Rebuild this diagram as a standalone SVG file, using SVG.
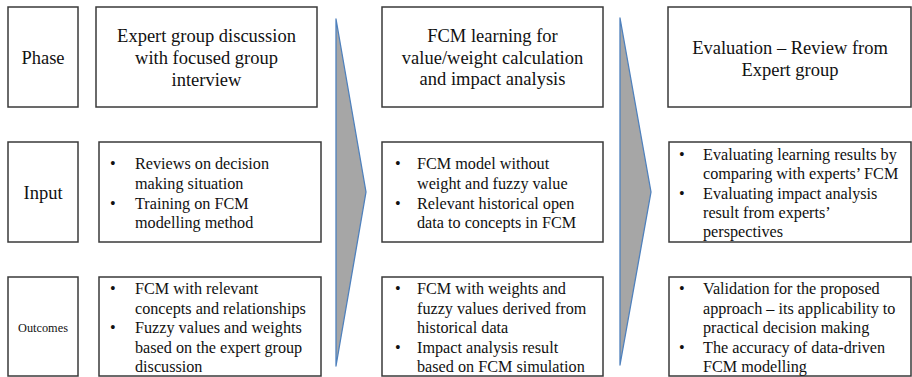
<svg xmlns="http://www.w3.org/2000/svg" width="912" height="377" viewBox="0 0 912 377">
<style>
.box{fill:#fff;stroke:#3a3a3a;stroke-width:1.5}
.arr{fill:#a6a6a6;stroke:#4f81bd;stroke-width:1.3;stroke-linejoin:round}
text{font-family:"Liberation Serif","Times New Roman",serif;fill:#111}
.h{font-size:18.5px;text-anchor:middle}
.b{font-size:16.2px}
.s{font-size:12.3px;text-anchor:middle}
</style>
<rect width="912" height="377" fill="#fff"/>
<g id="connectors">
<polygon class="arr" points="336,19 366,192 336,366"/>
<polygon class="arr" points="620,18 651,192 620,365"/>
</g>
<g id="label-phase">
<rect class="box" x="8" y="7" width="70" height="100"/>
<text class="h" x="43" y="64">Phase</text>
</g>
<g id="label-input">
<rect class="box" x="8" y="142" width="70" height="100"/>
<text class="h" x="43" y="199">Input</text>
</g>
<g id="label-outcomes">
<rect class="box" x="8" y="277" width="70" height="99"/>
<text class="s" x="43" y="332">Outcomes</text>
</g>
<g id="phase1">
<rect class="box" x="96" y="7" width="221" height="100"/>
<text class="h" x="206.5" y="42">Expert group discussion</text>
<text class="h" x="206.5" y="64">with focused group</text>
<text class="h" x="206.5" y="86">interview</text>
</g>
<g id="input1">
<rect class="box" x="99" y="142" width="222" height="100"/>
<text class="b" x="110" y="169">•</text>
<text class="b" x="135" y="169">Reviews on decision</text>
<text class="b" x="135" y="189">making situation</text>
<text class="b" x="110" y="208.5">•</text>
<text class="b" x="135" y="208.5">Training on FCM</text>
<text class="b" x="135" y="228">modelling method</text>
</g>
<g id="outcomes1">
<rect class="box" x="99" y="277" width="222" height="99"/>
<text class="b" x="110" y="294">•</text>
<text class="b" x="135" y="294">FCM with relevant</text>
<text class="b" x="135" y="313.5">concepts and relationships</text>
<text class="b" x="110" y="333">•</text>
<text class="b" x="135" y="333">Fuzzy values and weights</text>
<text class="b" x="135" y="352.5">based on the expert group</text>
<text class="b" x="135" y="372">discussion</text>
</g>
<g id="phase2">
<rect class="box" x="382" y="7" width="221" height="100"/>
<text class="h" x="492.5" y="42">FCM learning for</text>
<text class="h" x="492.5" y="63.5">value/weight calculation</text>
<text class="h" x="492.5" y="85">and impact analysis</text>
</g>
<g id="input2">
<rect class="box" x="382" y="142" width="221" height="100"/>
<text class="b" x="395" y="169">•</text>
<text class="b" x="417" y="169">FCM model without</text>
<text class="b" x="417" y="189">weight and fuzzy value</text>
<text class="b" x="395" y="208.5">•</text>
<text class="b" x="417" y="208.5">Relevant historical open</text>
<text class="b" x="417" y="228">data to concepts in FCM</text>
</g>
<g id="outcomes2">
<rect class="box" x="382" y="277" width="221" height="99"/>
<text class="b" x="395" y="294">•</text>
<text class="b" x="417" y="294">FCM with weights and</text>
<text class="b" x="417" y="313.5">fuzzy values derived from</text>
<text class="b" x="417" y="333">historical data</text>
<text class="b" x="395" y="352.5">•</text>
<text class="b" x="417" y="352.5">Impact analysis result</text>
<text class="b" x="417" y="372">based on FCM simulation</text>
</g>
<g id="phase3">
<rect class="box" x="668" y="7" width="243" height="100"/>
<text class="h" x="790" y="54">Evaluation – Review from</text>
<text class="h" x="790" y="76">Expert group</text>
</g>
<g id="input3">
<rect class="box" x="669" y="142" width="242" height="100"/>
<text class="b" x="679" y="159.5">•</text>
<text class="b" x="703" y="159.5">Evaluating learning results by</text>
<text class="b" x="703" y="179">comparing with experts’ FCM</text>
<text class="b" x="679" y="198.5">•</text>
<text class="b" x="703" y="198.5">Evaluating impact analysis</text>
<text class="b" x="703" y="218">result from experts’</text>
<text class="b" x="703" y="237">perspectives</text>
</g>
<g id="outcomes3">
<rect class="box" x="669" y="277" width="242" height="99"/>
<text class="b" x="679" y="294">•</text>
<text class="b" x="703" y="294">Validation for the proposed</text>
<text class="b" x="703" y="313.5">approach – its applicability to</text>
<text class="b" x="703" y="333">practical decision making</text>
<text class="b" x="679" y="352.5">•</text>
<text class="b" x="703" y="352.5">The accuracy of data-driven</text>
<text class="b" x="703" y="372">FCM modelling</text>
</g>
</svg>
